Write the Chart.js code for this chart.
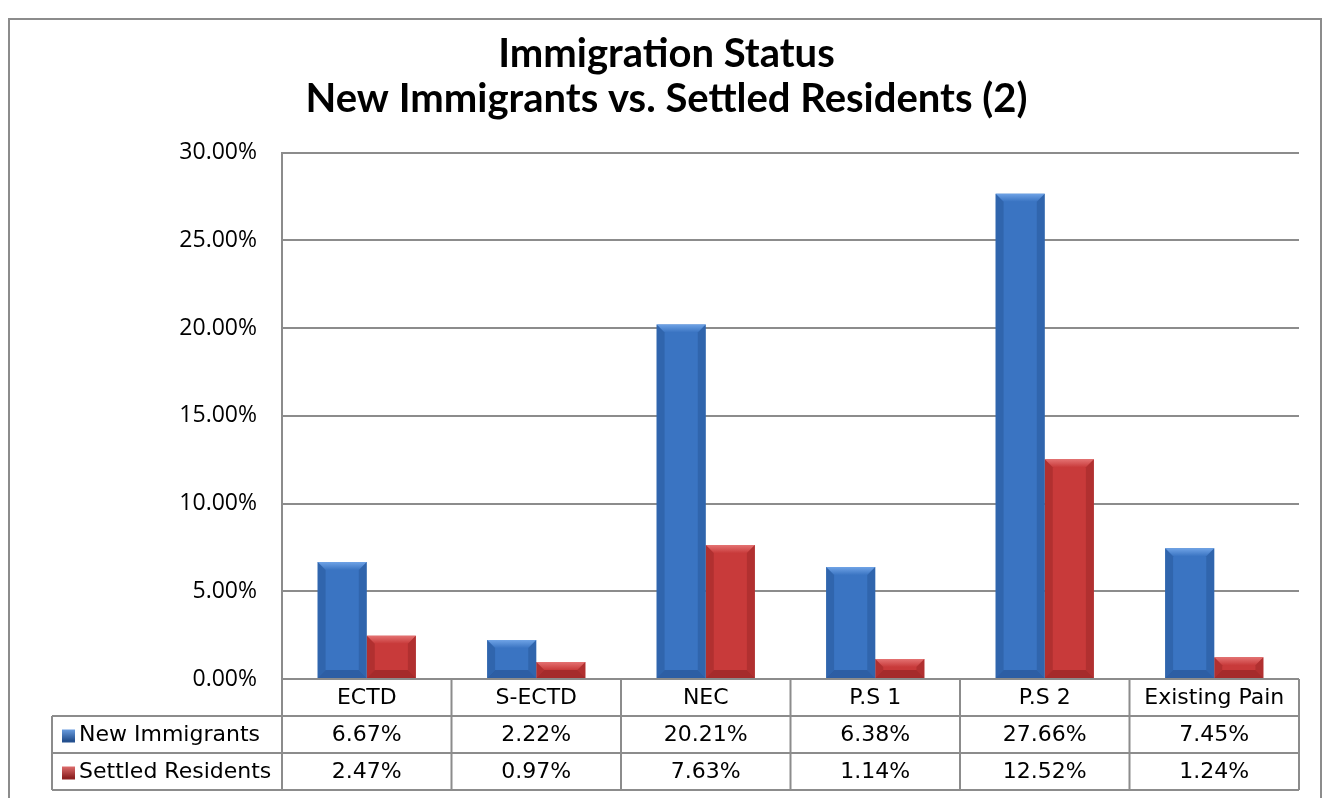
<!DOCTYPE html>
<html>
<head>
<meta charset="utf-8">
<script src="https://cdn.jsdelivr.net/npm/chart.js@4.4.1/dist/chart.umd.min.js"></script>
<style>
  html, body { margin: 0; padding: 0; background: #fff; }
  #wrap { width: 1325px; height: 798px; position: relative; }
</style>
</head>
<body>
<div id="wrap"><canvas id="statusChart" width="1325" height="798"></canvas></div>
<script>
const categories = ['ECTD', 'S-ECTD', 'NEC', 'P.S 1', 'P.S 2', 'Existing Pain'];
const newImmigrants = [6.67, 2.22, 20.21, 6.38, 27.66, 7.45];
const settledResidents = [2.47, 0.97, 7.63, 1.14, 12.52, 1.24];
const seriesNames = ['New Immigrants', 'Settled Residents'];
const yTicks = [0, 5, 10, 15, 20, 25, 30];

const blue = { base: '#3a74c2', dark: '#24508f', light: '#6fa3e6' };
const red = { base: '#c83a3a', dark: '#8e2222', light: '#e47272' };
const tableFont = '22px "DejaVu Sans", sans-serif';

// bars with a bevelled look like the Excel original
const bevelBars = {
    id: 'bevelBars',
    afterDatasetsDraw(chart) {
        const ctx = chart.ctx;
        chart.data.datasets.forEach((ds, i) => {
            const pal = i === 0 ? blue : red;
            chart.getDatasetMeta(i).data.forEach(bar => {
                const l = bar.x - bar.width / 2, r = bar.x + bar.width / 2;
                const t = bar.y, b = bar.base;
                const h = b - t;
                const e = Math.min(8, h / 2);
                ctx.save();
                // top bevel
                const g = ctx.createLinearGradient(0, t, 0, t + e);
                g.addColorStop(0, pal.light);
                g.addColorStop(1, pal.base);
                ctx.fillStyle = g;
                ctx.beginPath();
                ctx.moveTo(l, t); ctx.lineTo(r, t); ctx.lineTo(r - e, t + e); ctx.lineTo(l + e, t + e);
                ctx.closePath(); ctx.fill();
                // left / right edges
                ctx.fillStyle = pal.dark;
                ctx.globalAlpha = 0.4;
                ctx.beginPath();
                ctx.moveTo(l, t); ctx.lineTo(l + e, t + e); ctx.lineTo(l + e, b - e); ctx.lineTo(l, b);
                ctx.closePath(); ctx.fill();
                ctx.beginPath();
                ctx.moveTo(r, t); ctx.lineTo(r - e, t + e); ctx.lineTo(r - e, b - e); ctx.lineTo(r, b);
                ctx.closePath(); ctx.fill();
                // bottom edge
                ctx.globalAlpha = 0.6;
                ctx.beginPath();
                ctx.moveTo(l, b); ctx.lineTo(l + e, b - e); ctx.lineTo(r - e, b - e); ctx.lineTo(r, b);
                ctx.closePath(); ctx.fill();
                ctx.restore();
            });
        });
    }
};

// data table under the plot, columns follow the category scale
const dataTable = {
    id: 'dataTable',
    afterDraw(chart) {
        const ctx = chart.ctx;
        const xs = chart.scales.x;
        const area = chart.chartArea;
        const step = (area.right - area.left) / categories.length;
        const rowH = 37;
        const top = area.bottom;
        const leftCol = 52;
        ctx.save();
        ctx.strokeStyle = '#8c8c8c';
        ctx.lineWidth = 2;
        ctx.beginPath();
        ctx.moveTo(area.left, top); ctx.lineTo(area.right, top);
        for (let k = 1; k <= 3; k++) {
            ctx.moveTo(leftCol, top + rowH * k); ctx.lineTo(area.right, top + rowH * k);
        }
        for (let c = 0; c <= categories.length; c++) {
            const x = area.left + step * c;
            ctx.moveTo(x, top); ctx.lineTo(x, top + rowH * 3);
        }
        ctx.moveTo(leftCol, top + rowH); ctx.lineTo(leftCol, top + rowH * 3);
        ctx.stroke();

        ctx.fillStyle = '#000';
        ctx.font = tableFont;
        ctx.textAlign = 'center';
        ctx.textBaseline = 'middle';
        categories.forEach((c, i) => {
            const cx = xs.getPixelForValue(i);
            ctx.fillText(c, cx, top + rowH * 0.5 + 1);
            ctx.fillText(newImmigrants[i].toFixed(2) + '%', cx, top + rowH * 1.5 + 1);
            ctx.fillText(settledResidents[i].toFixed(2) + '%', cx, top + rowH * 2.5 + 1);
        });
        // series keys
        ctx.textAlign = 'left';
        [blue, red].forEach((pal, i) => {
            const y = top + rowH * (i + 1.5);
            const g = ctx.createLinearGradient(0, y - 6, 0, y + 6);
            g.addColorStop(0, pal.light);
            g.addColorStop(1, pal.dark);
            ctx.fillStyle = g;
            ctx.fillRect(62, y - 5, 13, 13);
            ctx.fillStyle = '#000';
            ctx.fillText(seriesNames[i], 79, y + 1);
        });
        ctx.restore();
    }
};

// outer chart frame
const frame = {
    id: 'frame',
    beforeDraw(chart) {
        const ctx = chart.ctx;
        ctx.save();
        ctx.strokeStyle = '#8c8c8c';
        ctx.lineWidth = 2;
        ctx.beginPath();
        ctx.moveTo(9, 798); ctx.lineTo(9, 19); ctx.lineTo(1321, 19); ctx.lineTo(1321, 798);
        ctx.stroke();
        ctx.restore();
    }
};

new Chart(document.getElementById('statusChart').getContext('2d'), {
    type: 'bar',
    data: {
        labels: categories,
        datasets: [{
            label: seriesNames[0],
            data: newImmigrants,
            backgroundColor: blue.base
        }, {
            label: seriesNames[1],
            data: settledResidents,
            backgroundColor: red.base
        }]
    },
    options: {
        responsive: false,
        animation: false,
        layout: { padding: { left: 34, right: 26, top: 0, bottom: 119 } },
        datasets: { bar: { categoryPercentage: 0.58, barPercentage: 1.0 } },
        plugins: {
            legend: { display: false },
            tooltip: { enabled: false },
            title: {
                display: true,
                text: ['Immigration Status', 'New Immigrants vs. Settled Residents (2)'],
                color: '#000',
                font: { family: 'Lato, "Open Sans", sans-serif', size: 40, weight: 'bold', lineHeight: 1.12 },
                padding: { top: 32, bottom: 31 }
            }
        },
        scales: {
            x: {
                display: false
            },
            y: {
                min: 0,
                max: 30,
                afterFit(scale) { scale.width = 248; },
                afterBuildTicks(scale) { scale.ticks = yTicks.map(v => ({ value: v })); },
                grid: { color: '#8c8c8c', lineWidth: 2, drawTicks: false },
                border: { color: '#8c8c8c', width: 2 },
                ticks: {
                    color: '#000',
                    padding: 25,
                    font: { family: '"Open Sans", sans-serif', size: 23 },
                    callback: v => v.toFixed(2) + '%'
                }
            }
        }
    },
    plugins: [frame, bevelBars, dataTable]
});
</script>
</body>
</html>
